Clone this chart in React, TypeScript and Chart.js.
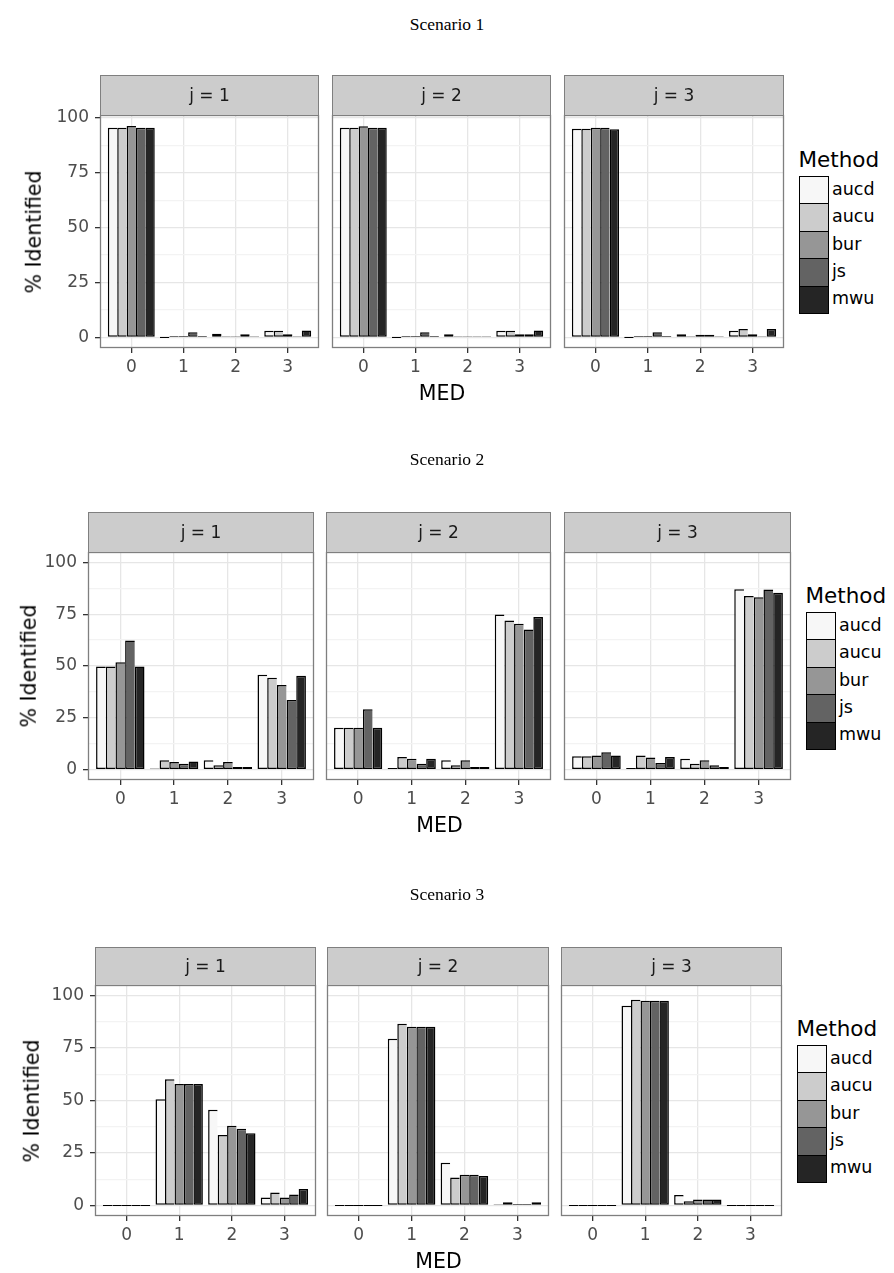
import React, { useEffect, useRef } from 'react';
import { Chart, registerables } from 'chart.js';

Chart.register(...registerables);

const SCENARIO_TITLES = ['Scenario 1', 'Scenario 2', 'Scenario 3'];
const FACET_LABELS = ['j = 1', 'j = 2', 'j = 3'];
const MED_CATEGORIES = ['0', '1', '2', '3'];
const METHODS = ['aucd', 'aucu', 'bur', 'js', 'mwu'];
const METHOD_FILLS = ['#F7F7F7', '#CCCCCC', '#969696', '#636363', '#252525'];
const Y_TICK_LABELS = [0, 25, 50, 75, 100];
const Y_MINOR_TICKS = [12.5, 37.5, 62.5, 87.5];
const X_TITLE = 'MED';
const Y_TITLE = '% Identified';
const LEGEND_TITLE = 'Method';

// % identified; rows follow METHODS, columns follow MED_CATEGORIES
const S1_J1 = [
  [95.5, 0, 1.7, 3.0],
  [95.5, 0.7, 0.5, 3.0],
  [96.3, 0.7, 0.5, 1.5],
  [95.5, 2.4, 1.5, 0.5],
  [95.5, 0.7, 0.5, 3.2],
];
const S1_J2 = [
  [95.5, 0, 1.5, 3.0],
  [95.5, 0.7, 0.5, 3.0],
  [96.2, 0.7, 0.5, 1.5],
  [95.5, 2.4, 0.5, 1.5],
  [95.5, 0.7, 0.5, 3.2],
];
const S1_J3 = [
  [95.0, 0, 1.5, 3.0],
  [95.0, 0.7, 0.5, 3.8],
  [95.5, 0.7, 1.2, 1.5],
  [95.5, 2.4, 1.2, 0.5],
  [94.8, 0.7, 0.5, 3.8],
];
const S2_J1 = [
  [49.7, 0.5, 4.5, 45.8],
  [49.7, 4.5, 2.1, 44.3],
  [51.8, 3.7, 3.7, 40.8],
  [62.3, 2.9, 1.3, 33.6],
  [49.7, 3.9, 1.3, 45.3],
];
const S2_J2 = [
  [20.2, 0.8, 4.5, 74.8],
  [20.2, 6.1, 2.1, 72.0],
  [20.2, 5.2, 4.5, 70.4],
  [29.1, 2.9, 1.3, 67.6],
  [20.2, 5.2, 1.3, 73.6],
];
const S2_J3 = [
  [6.5, 0.8, 5.3, 87.0],
  [6.5, 6.8, 2.9, 83.8],
  [6.8, 5.8, 4.5, 83.2],
  [8.4, 3.2, 2.1, 86.9],
  [6.8, 6.1, 1.3, 85.4],
];
const S3_J1 = [
  [0, 50.6, 45.6, 3.8],
  [0, 60.1, 33.6, 6.2],
  [0, 57.9, 38.0, 3.8],
  [0, 57.9, 36.6, 5.2],
  [0, 57.9, 34.4, 7.8],
];
const S3_J2 = [
  [0, 79.4, 20.4, 0.3],
  [0, 86.6, 13.3, 1.5],
  [0, 85.1, 14.7, 0.7],
  [0, 85.1, 14.7, 0.7],
  [0, 85.1, 14.0, 1.5],
];
const S3_J3 = [
  [0, 95.1, 5.0, 0],
  [0, 98.0, 2.0, 0],
  [0, 97.5, 2.8, 0],
  [0, 97.5, 2.8, 0],
  [0, 97.5, 2.8, 0],
];

const SCENARIO_DATA = [
  [S1_J1, S1_J2, S1_J3],
  [S2_J1, S2_J2, S2_J3],
  [S3_J1, S3_J2, S3_J3],
];

// geometry (pixels) of each scenario block
const LAYOUT = [
  { titleY: 25, stripTop: 75, top: 115, bottom: 348, yMin: -4.8, yMax: 101.3, panels: [[100, 319], [332, 551], [564, 784]], legendLeft: 799, legendTitleY: 160, yTitleX: 34 },
  { titleY: 460, stripTop: 512, top: 552, bottom: 780, yMin: -5, yMax: 105, panels: [[88, 314], [326, 551], [564, 791]], legendLeft: 806, legendTitleY: 596, yTitleX: 29 },
  { titleY: 895, stripTop: 947, top: 985, bottom: 1216, yMin: -5, yMax: 105, panels: [[95, 316], [327, 549], [561, 782]], legendLeft: 797, legendTitleY: 1029, yTitleX: 32 },
];

const SANS = "'DejaVu Sans', sans-serif";
const SERIF = "'Liberation Serif', 'Times New Roman', serif";
const AXIS_TEXT = '#4D4D4D';
const KEY_H = 27.4;
const BAR_EDGE = 1.5;

const framePlugin = {
  id: 'panelFrame',
  afterDraw(chart: any) {
    const { ctx, chartArea: a } = chart;
    ctx.save();
    ctx.strokeStyle = '#7F7F7F';
    ctx.lineWidth = 1.3;
    ctx.strokeRect(a.left + 0.5, a.top + 0.5, a.right - a.left - 1, a.bottom - a.top - 1);
    ctx.restore();
  },
};

type PanelProps = {
  rows: number[][];
  left: number;
  right: number;
  top: number;
  bottom: number;
  yMin: number;
  yMax: number;
  showY: boolean;
};

function Panel({ rows, left, right, top, bottom, yMin, yMax, showY }: PanelProps) {
  const ref = useRef<HTMLCanvasElement | null>(null);
  const lm = showY ? 70 : 1;
  const rm = 2;
  const tm = 24;
  const bm = 34;
  const w = right - left + lm + rm;
  const h = bottom - top + tm + bm;

  useEffect(() => {
    const canvas = ref.current;
    if (!canvas) return;
    const yTicks = [...Y_TICK_LABELS, ...Y_MINOR_TICKS].filter((v) => v >= yMin && v <= yMax).sort((a, b) => a - b);
    const chart = new Chart(canvas, {
      type: 'bar',
      data: {
        datasets: METHODS.map((m, k) => ({
          label: m,
          data: rows[k].map((v, i) => ({ x: i, y: v })),
          backgroundColor: METHOD_FILLS[k],
          borderColor: '#000000',
          borderWidth: { top: BAR_EDGE, left: BAR_EDGE, bottom: BAR_EDGE, right: k === METHODS.length - 1 ? BAR_EDGE : 0 },
          borderSkipped: false,
          minBarLength: 1.2,
          categoryPercentage: 0.9,
          barPercentage: 1,
        })),
      } as any,
      options: {
        animation: false,
        responsive: false,
        maintainAspectRatio: false,
        events: [],
        layout: { padding: { top: tm, right: rm, bottom: 0, left: 0 } },
        plugins: {
          legend: { display: false },
          tooltip: { enabled: false },
          title: { display: false },
        },
        scales: {
          x: {
            type: 'linear',
            min: -0.6,
            max: 3.6,
            offset: false,
            afterBuildTicks: (a: any) => {
              a.ticks = MED_CATEGORIES.map((_, i) => ({ value: i }));
            },
            afterFit: (a: any) => {
              a.height = bm;
            },
            ticks: {
              autoSkip: false,
              maxRotation: 0,
              padding: 4,
              color: AXIS_TEXT,
              font: { family: SANS, size: 17 },
              callback: (v: any) => MED_CATEGORIES[v] ?? '',
            },
            grid: {
              offset: false,
              color: '#E6E6E6',
              lineWidth: 1.3,
              tickLength: 5,
              tickWidth: 1.3,
              tickColor: '#333333',
            },
            border: { display: false },
          },
          y: {
            type: 'linear',
            min: yMin,
            max: yMax,
            afterBuildTicks: (a: any) => {
              a.ticks = yTicks.map((v) => ({ value: v }));
            },
            afterFit: (a: any) => {
              a.width = lm;
            },
            ticks: {
              display: showY,
              autoSkip: false,
              padding: 6,
              color: AXIS_TEXT,
              font: { family: SANS, size: 17 },
              callback: (v: any) => (Y_TICK_LABELS.includes(v) ? String(v) : ''),
            },
            grid: {
              drawTicks: showY,
              tickLength: 5,
              tickWidth: 1.3,
              tickColor: (c: any) => (c.tick && Y_TICK_LABELS.includes(c.tick.value) ? '#333333' : 'rgba(0,0,0,0)'),
              color: (c: any) => (c.tick && Y_TICK_LABELS.includes(c.tick.value) ? '#E6E6E6' : '#F3F3F3'),
              lineWidth: 1.3,
            },
            border: { display: false },
          },
        },
      } as any,
      plugins: [framePlugin],
    });
    return () => chart.destroy();
  }, []);

  return (
    <canvas
      ref={ref}
      width={w}
      height={h}
      style={{ position: 'absolute', left: left - lm, top: top - tm, width: w, height: h }}
    />
  );
}

type LabelProps = {
  x: number;
  y: number;
  size: number;
  family?: string;
  color?: string;
  align?: 'center' | 'left';
  rotate?: boolean;
  children: React.ReactNode;
};

function Label({ x, y, size, family = SANS, color = '#000000', align = 'center', rotate = false, children }: LabelProps) {
  const tx = align === 'center' ? '-50%' : '0';
  return (
    <div
      style={{
        position: 'absolute',
        left: x,
        top: y,
        fontFamily: family,
        fontSize: size,
        lineHeight: 1,
        color,
        whiteSpace: 'nowrap',
        transform: `translate(${tx}, -50%)${rotate ? ' rotate(-90deg)' : ''}`,
      }}
    >
      {children}
    </div>
  );
}

function Scenario({ index }: { index: number }) {
  const lay = LAYOUT[index];
  const data = SCENARIO_DATA[index];
  const keyTop = lay.legendTitleY + 16;
  return (
    <>
      <Label x={447} y={lay.titleY} size={17.5} family={SERIF}>
        {SCENARIO_TITLES[index]}
      </Label>
      {lay.panels.map(([l, r], p) => (
        <Panel
          key={`p${p}`}
          rows={data[p]}
          left={l}
          right={r}
          top={lay.top}
          bottom={lay.bottom}
          yMin={lay.yMin}
          yMax={lay.yMax}
          showY={p === 0}
        />
      ))}
      {lay.panels.map(([l, r], p) => (
        <div
          key={`s${p}`}
          style={{
            position: 'absolute',
            left: l,
            top: lay.stripTop,
            width: r - l,
            height: lay.top - lay.stripTop + 1,
            background: '#CCCCCC',
            border: '1.3px solid #7F7F7F',
            boxSizing: 'border-box',
          }}
        />
      ))}
      {lay.panels.map(([l, r], p) => (
        <Label key={`t${p}`} x={(l + r) / 2} y={(lay.stripTop + lay.top) / 2} size={17} color="#1A1A1A">
          {FACET_LABELS[p]}
        </Label>
      ))}
      <Label x={lay.yTitleX} y={(lay.top + lay.bottom) / 2} size={20.5} rotate>
        {Y_TITLE}
      </Label>
      <Label x={(lay.panels[0][0] + lay.panels[2][1]) / 2} y={lay.bottom + 45} size={20.5}>
        {X_TITLE}
      </Label>
      <Label x={lay.legendLeft - 0.5} y={lay.legendTitleY} size={21.5} align="left">
        {LEGEND_TITLE}
      </Label>
      {METHODS.map((m, k) => (
        <div
          key={`k${k}`}
          style={{
            position: 'absolute',
            left: lay.legendLeft,
            top: keyTop + k * KEY_H,
            width: 30,
            height: KEY_H + 1,
            background: METHOD_FILLS[k],
            border: '1.5px solid #000000',
            boxSizing: 'border-box',
          }}
        />
      ))}
      {METHODS.map((m, k) => (
        <Label key={`l${k}`} x={lay.legendLeft + 33} y={keyTop + k * KEY_H + KEY_H / 2} size={17.5} align="left">
          {m}
        </Label>
      ))}
    </>
  );
}

export default function App() {
  return (
    <div
      style={{
        position: 'absolute',
        left: 0,
        top: 0,
        width: 894,
        height: 1273,
        overflow: 'hidden',
        background: '#FFFFFF',
      }}
    >
      {SCENARIO_TITLES.map((_, i) => (
        <Scenario key={i} index={i} />
      ))}
    </div>
  );
}
